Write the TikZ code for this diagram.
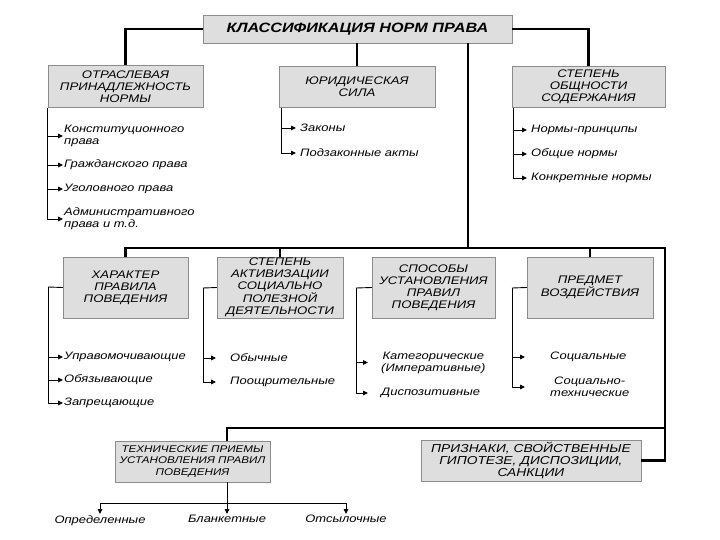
\documentclass[tikz,border=0pt]{standalone}
\usepackage{fontspec}
\setmainfont{Liberation Sans}[FakeStretch=1.2]
\usetikzlibrary{arrows.meta,positioning}
\tikzset{
  classbox/.style={
    rectangle,
    draw=black!45,
    fill=black!13,
    align=center,
    inner sep=1pt,
    font=\itshape\fontsize{11}{12}\selectfont
  },
  headbox/.style={
    classbox,
    font=\bfseries\itshape\fontsize{13.5}{15}\selectfont
  },
  listitem/.style={
    anchor=west,
    align=left,
    inner sep=1pt,
    font=\itshape\fontsize{10.8}{12}\selectfont
  },
  trunk/.style={line width=2.4pt},
  branch/.style={line width=0.9pt},
  pointer/.style={-{Triangle[length=5pt,width=4.5pt]}, line width=0.9pt}
}

\begin{document}
\begin{tikzpicture}[x=1pt,y=-1pt]
  \useasboundingbox (0,0) rectangle (720,540);

  % root
  \node[headbox, minimum width=309pt, minimum height=28pt] (root) at (357.5,29) {КЛАССИФИКАЦИЯ НОРМ ПРАВА};

  % upper row
  \node[classbox, minimum width=155pt, minimum height=42pt] (sector) at (125.5,86.5) {ОТРАСЛЕВАЯ\\ПРИНАДЛЕЖНОСТЬ\\НОРМЫ};
  \node[classbox, minimum width=156pt, minimum height=41pt] (force) at (357,87) {ЮРИДИЧЕСКАЯ\\СИЛА};
  \node[classbox, minimum width=153pt, minimum height=41pt] (scope) at (588.5,87) {СТЕПЕНЬ\\ОБЩНОСТИ\\СОДЕРЖАНИЯ};

  % lower row
  \node[classbox, minimum width=125pt, minimum height=61pt] (character) at (125.5,287.5) {ХАРАКТЕР\\ПРАВИЛА\\ПОВЕДЕНИЯ};
  \node[classbox, minimum width=126pt, minimum height=61pt] (activity) at (280,287.5) {СТЕПЕНЬ\\АКТИВИЗАЦИИ\\СОЦИАЛЬНО\\ПОЛЕЗНОЙ\\ДЕЯТЕЛЬНОСТИ};
  \node[classbox, minimum width=123pt, minimum height=61pt] (method) at (433.5,287.5) {СПОСОБЫ\\УСТАНОВЛЕНИЯ\\ПРАВИЛ\\ПОВЕДЕНИЯ};
  \node[classbox, minimum width=126pt, minimum height=61pt] (subject) at (590,287.5) {ПРЕДМЕТ\\ВОЗДЕЙСТВИЯ};

  % bottom
  \node[classbox, minimum width=155pt, minimum height=41pt, font=\itshape\fontsize{9.7}{11.5}\selectfont] (technique) at (192.5,461.5) {ТЕХНИЧЕСКИЕ ПРИЕМЫ\\УСТАНОВЛЕНИЯ ПРАВИЛ\\ПОВЕДЕНИЯ};
  \node[classbox, minimum width=220pt, minimum height=41pt, font=\itshape\fontsize{11.5}{12.3}\selectfont] (features) at (531,460.5) {ПРИЗНАКИ, СВОЙСТВЕННЫЕ\\ГИПОТЕЗЕ, ДИСПОЗИЦИИ,\\САНКЦИИ};

  % items
  \node[listitem] (constit) at (63,136) {Конституционного\\права};
  \node[listitem] (civil) at (63,165) {Гражданского права};
  \node[listitem] (criminal) at (63,189) {Уголовного права};
  \node[listitem] (admin) at (63,219) {Административного\\права и т.д.};

  \node[listitem] (laws) at (299,128) {Законы};
  \node[listitem] (bylaws) at (299,153) {Подзаконные акты};

  \node[listitem] (principle) at (530,130) {Нормы-принципы};
  \node[listitem] (general) at (530,154) {Общие нормы};
  \node[listitem] (concrete) at (530,178) {Конкретные нормы};

  \node[listitem] (empower) at (63,357) {Управомочивающие};
  \node[listitem] (oblige) at (63,380) {Обязывающие};
  \node[listitem] (forbid) at (63,403) {Запрещающие};

  \node[listitem] (usual) at (229,358) {Обычные};
  \node[listitem] (reward) at (229,382) {Поощрительные};

  \node[listitem, align=center] (categor) at (380,362.5) {Категорические\\(Императивные)};
  \node[listitem] (dispos) at (380,393) {Диспозитивные};

  \node[listitem, align=center] (social) at (549,357) {Социальные};
  \node[listitem, align=center] (sotech) at (549,387) {Социально-\\технические};

  \node[listitem, anchor=north] (definite) at (100,514) {Определенные};
  \node[listitem, anchor=north] (blank) at (227,514) {Бланкетные};
  \node[listitem, anchor=north] (refer) at (346,514) {Отсылочные};

  % thick links
  \coordinate (hub) at (468,248);
  \coordinate (railR) at (665,248);
  \coordinate (lowR) at (665,428);
  \draw[trunk] (root.west) -| (sector.north);
  \draw[trunk] (root.east) -| (scope.north);
  \draw[trunk] (force.north |- root.south) -- (force.north);
  \draw[trunk] (root.south -| hub) -- (hub);
  \draw[trunk] (character.north) -- (character.north |- hub) -- (railR) |- (features.east);
  \draw[trunk] (activity.north |- hub) -- (activity.north);
  \draw[trunk] (subject.north |- hub) -- (subject.north);
  \draw[trunk] ([xshift=34.5pt]technique.north) |- (lowR);

  % upper lists
  \foreach \t in {constit,civil,criminal}
    \draw[pointer] (sector.south west |- \t.west) -- (\t.west);
  \draw[pointer] (sector.south west) |- (admin.west);
  \draw[pointer] (force.south west -| 281,0) |- (laws.west -| 296,0);
  \draw[pointer] (force.south west -| 281,0) |- (bylaws.west -| 296,0);
  \foreach \t in {principle,general}
    \draw[pointer] (513,0 |- \t.west) -- (\t.west -| 527,0);
  \draw[pointer] (scope.south west -| 513,0) |- (concrete.west -| 527,0);

  % lower lists
  \draw[branch] (character.west) -- (48,287);
  \foreach \t in {empower,oblige}
    \draw[pointer] (48,0 |- \t.west) -- (\t.west);
  \draw[pointer] (48,287) |- (forbid.west);

  \draw[branch] (activity.west) -- (203,288);
  \draw[pointer] (203,0 |- usual.west) -- (usual.west -| 216,0);
  \draw[pointer] (203,288) |- (reward.west -| 216,0);

  \draw[branch] (method.west) -- (356,288);
  \draw[pointer] (356,0 |- categor.west) -- (categor.west -| 368,0);
  \draw[pointer] (356,288) |- (dispos.west -| 368,0);

  \draw[branch] (subject.west) -- (512,288);
  \draw[pointer] (512,0 |- social.west) -- (social.west -| 525,0);
  \draw[pointer] (512,288) |- (sotech.west -| 525,0);

  % bottom list
  \draw[branch] (definite.north |- 0,503) -- (refer.north |- 0,503);
  \draw[pointer] ([xshift=34.5pt]technique.south) -- (blank.north);
  \draw[pointer] (definite.north |- 0,503) -- (definite.north);
  \draw[pointer] (refer.north |- 0,503) -- (refer.north);
\end{tikzpicture}
\end{document}
